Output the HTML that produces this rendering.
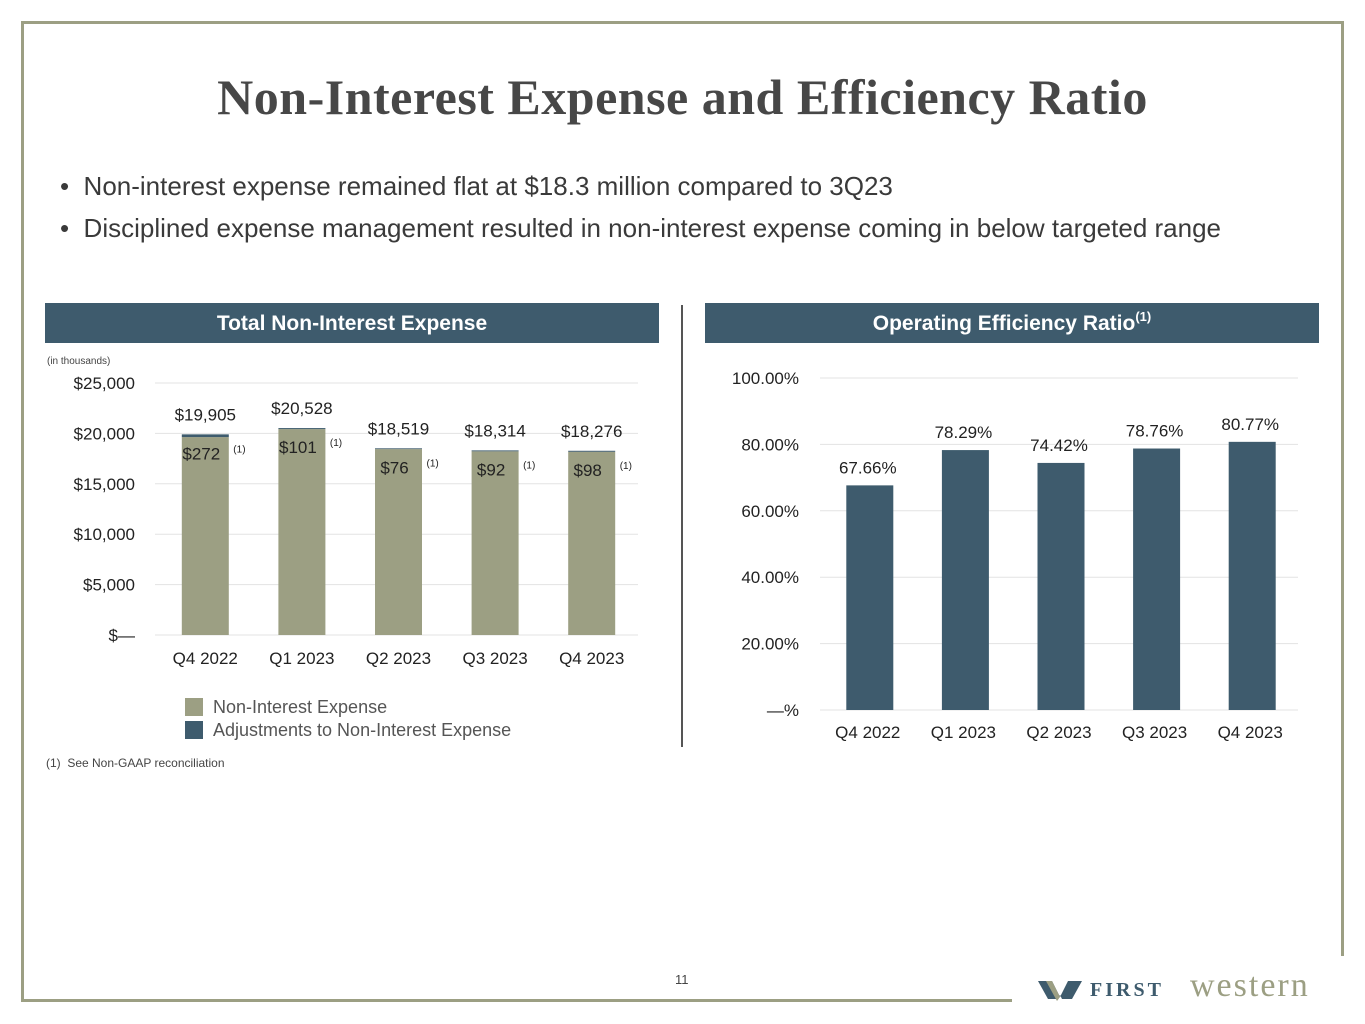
<!DOCTYPE html>
<html><head><meta charset="utf-8">
<style>
body{margin:0;background:#fff;}
#page{position:relative;width:1365px;height:1024px;overflow:hidden;background:#fff;font-family:"Liberation Sans",sans-serif;}
.abs{position:absolute;}
</style></head>
<body>
<div id="page">
  <div class="abs" style="left:22px;top:21px;width:1322px;height:3px;background:#9c9f83"></div>
  <div class="abs" style="left:21px;top:21px;width:3px;height:981px;background:#9c9f83"></div>
  <div class="abs" style="left:1341px;top:21px;width:3px;height:935px;background:#9c9f83"></div>
  <div class="abs" style="left:21px;top:999px;width:991px;height:3px;background:#9c9f83"></div>

  <div class="abs" style="left:0;width:1365px;top:68px;text-align:center;font-family:'Liberation Serif',serif;font-weight:bold;font-size:50px;color:#474747;letter-spacing:0.5px">Non-Interest Expense and Efficiency Ratio</div>

  <div class="abs" style="left:60px;top:171px;font-size:26px;color:#3a3a3a">•&nbsp; Non-interest expense remained flat at $18.3 million compared to 3Q23</div>
  <div class="abs" style="left:60px;top:213px;font-size:26px;color:#3a3a3a">•&nbsp; Disciplined expense management resulted in non-interest expense coming in below targeted range</div>

  <div class="abs" style="left:45px;top:303px;width:614px;height:40px;background:#3e5b6d;color:#fff;font-weight:bold;font-size:21px;text-align:center;line-height:42px">Total Non-Interest Expense</div>
  <div class="abs" style="left:705px;top:303px;width:614px;height:40px;background:#3e5b6d;color:#fff;font-weight:bold;font-size:21px;text-align:center;line-height:42px">Operating Efficiency Ratio<span style="font-size:13px;position:relative;top:-9px">(1)</span></div>
  <div class="abs" style="left:681px;top:305px;width:2px;height:442px;background:#555"></div>

  <div class="abs" style="left:47px;top:356px;font-size:10px;color:#444">(in thousands)</div>
  <div class="abs" style="left:46px;top:756px;font-size:12px;color:#444">(1)&nbsp; See Non-GAAP reconciliation</div>
  <div class="abs" style="left:675px;top:972px;font-size:13px;color:#444">11</div>

  <div class="abs" style="left:1038px;top:976px;width:305px;height:28px">
    <svg width="48" height="24" viewBox="0 0 48 24" style="position:absolute;left:0;top:3px">
      <polygon points="0,2 14,2 22,18 30,2 44,2 34,20 24,20 22,16 20,20 10,20" fill="#3e5b6d"/>
      <polygon points="8,2 14,2 22,18 19,22" fill="#9c9f83"/>
    </svg>
    <span style="position:absolute;left:52px;top:3px;font-family:'Liberation Serif',serif;font-weight:bold;font-size:20px;letter-spacing:3px;color:#3e5b6d">FIRST</span>
    <span style="position:absolute;left:152px;top:-9px;font-family:'Liberation Serif',serif;font-size:34px;letter-spacing:2px;color:#9c9f83">western</span>
  </div>

  <svg id="left" class="abs" style="left:0;top:0" width="682" height="760"></svg>
  <svg id="right" class="abs" style="left:683px;top:0" width="682" height="760"></svg>

  <div class="abs" style="left:185px;top:697px;font-size:18px;color:#555"><span style="display:inline-block;width:18px;height:18px;background:#9c9f83;vertical-align:-3px;margin-right:10px"></span>Non-Interest Expense</div>
  <div class="abs" style="left:185px;top:720px;font-size:18px;color:#555"><span style="display:inline-block;width:18px;height:18px;background:#3e5b6d;vertical-align:-3px;margin-right:10px"></span>Adjustments to Non-Interest Expense</div>
</div>
<script>
const categories = ["Q4 2022","Q1 2023","Q2 2023","Q3 2023","Q4 2023"];
const totals = [19905,20528,18519,18314,18276];
const adjustments = [272,101,76,92,98];
const leftTicks = [0,5000,10000,15000,20000,25000];
const leftTickLabels = ["$—","$5,000","$10,000","$15,000","$20,000","$25,000"];
const ratios = [67.66,78.29,74.42,78.76,80.77];
const rightTicks = [0,20,40,60,80,100];
const rightTickLabels = ["—%","20.00%","40.00%","60.00%","80.00%","100.00%"];

const NS="http://www.w3.org/2000/svg";
function mk(svg,tag,attrs,text){const e=document.createElementNS(NS,tag);for(const k in attrs)e.setAttribute(k,attrs[k]);if(text!==undefined)e.textContent=text;svg.appendChild(e);return e;}

// Left chart
(function(){
  const svg=document.getElementById('left');
  const y0=635,y1=383,maxV=25000,x0=155,x1=638;
  const y=v=>y0-(v/maxV)*(y0-y1);
  const band=(x1-x0)/categories.length;
  const xc=i=>x0+band*(i+0.5)+2;
  const bw=47;
  leftTicks.forEach((t,i)=>{
    const g=mk(svg,'line',{x1:x0,x2:x1,y1:y(t),y2:y(t),stroke:'#e3e3e3','stroke-width':1});
    
    
    const l=mk(svg,'text',{x:135,y:y(t)+6,'text-anchor':'end','font-size':17,fill:'#222'},leftTickLabels[i]);
    
    
  });
  categories.forEach((c,i)=>{
    const base=totals[i]-adjustments[i];
    const b=mk(svg,'rect',{x:xc(i)-bw/2,y:y(base),width:bw,height:y0-y(base),fill:'#9c9f83'});
    
    
    const a=mk(svg,'rect',{x:xc(i)-bw/2,y:y(totals[i]),width:bw,height:y(base)-y(totals[i]),fill:'#3e5b6d'});
    
    
    const tl=mk(svg,'text',{x:xc(i),y:y(totals[i])-14,'text-anchor':'middle','font-size':17,fill:'#222'},'$'+totals[i].toLocaleString('en-US'));
    
    
    const al=mk(svg,'text',{x:xc(i)-4,y:y(totals[i])+25,'text-anchor':'middle','font-size':17,fill:'#222'},'$'+adjustments[i]);
    
    
    const fn=mk(svg,'text',{x:xc(i)+28,y:y(totals[i])+18,'font-size':10,fill:'#222'},'(1)');
    
    
    const xl=mk(svg,'text',{x:xc(i),y:664,'text-anchor':'middle','font-size':17,fill:'#222'},c);
    
    
  });
})();

// Right chart
(function(){
  const svg=document.getElementById('right');
  const y0=710,y1=378,maxV=100,x0=137,x1=615;
  const y=v=>y0-(v/maxV)*(y0-y1);
  const band=(x1-x0)/categories.length;
  const xc=i=>x0+band*(i+0.5)+2;
  const bw=47;
  rightTicks.forEach((t,i)=>{
    const g=mk(svg,'line',{x1:x0,x2:x1,y1:y(t),y2:y(t),stroke:'#e3e3e3','stroke-width':1});
    
    
    const l=mk(svg,'text',{x:116,y:y(t)+6,'text-anchor':'end','font-size':17,fill:'#222'},rightTickLabels[i]);
    
    
  });
  categories.forEach((c,i)=>{
    const b=mk(svg,'rect',{x:xc(i)-bw/2,y:y(ratios[i]),width:bw,height:y0-y(ratios[i]),fill:'#3e5b6d'});
    
    
    const tl=mk(svg,'text',{x:xc(i)-2,y:y(ratios[i])-12,'text-anchor':'middle','font-size':17,fill:'#222'},ratios[i].toFixed(2)+'%');
    
    
    const xl=mk(svg,'text',{x:xc(i)-2,y:738,'text-anchor':'middle','font-size':17,fill:'#222'},c);
    
    
  });
})();
</script>
</body></html>
